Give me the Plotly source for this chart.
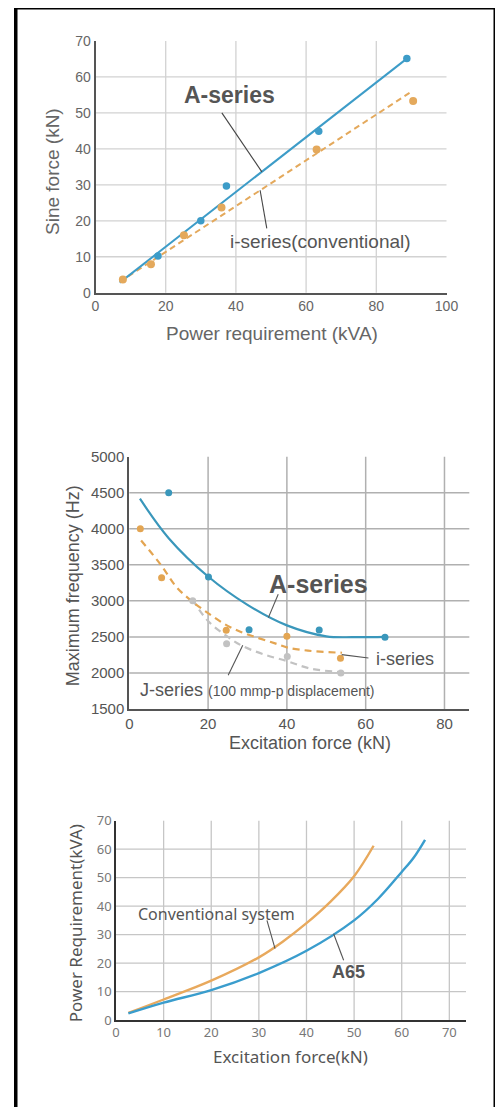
import plotly.graph_objects as go

# reference page is 503x1115; the page keeps the browser's 8px body margin,
# so the figure is sized to fill the viewport minus that margin
PAGE_W, PAGE_H = 503, 1115
OFF = 8
W, H = PAGE_W - 2 * OFF, PAGE_H - 2 * OFF

# ---------------- Chart 1: Sine force vs power requirement ----------------
c1_a_x = [17.8, 30.0, 37.3, 63.6, 88.7]
c1_a_y = [10.2, 20.0, 29.7, 44.9, 65.1]
c1_i_x = [7.8, 15.8, 25.2, 35.9, 63.0, 90.5]
c1_i_y = [3.7, 7.9, 16.0, 23.7, 39.8, 53.3]
c1_a_fit_x = [6.9, 88.7]
c1_a_fit_y = [2.8, 65.1]
c1_i_fit_x = [6.9, 90.3]
c1_i_fit_y = [3.0, 56.1]
c1_xticks = [0, 20, 40, 60, 80, 100]
c1_yticks = [0, 10, 20, 30, 40, 50, 60, 70]
c1_xgrid = [20, 40, 60, 80]
c1_ygrid = [10, 20, 30, 40, 50, 60]

# ---------------- Chart 2: Maximum frequency vs excitation force ----------------
c2_a_x = [10.0, 20.1, 30.4, 48.2, 64.9]
c2_a_y = [4500, 3330, 2600, 2595, 2496]
c2_a_curve_x = [2.7, 10, 20, 30, 40, 50, 57, 65]
c2_a_curve_y = [4417, 3870, 3338, 2945, 2660, 2508, 2496, 2500]
c2_i_x = [2.8, 8.2, 24.6, 40.0, 53.6]
c2_i_y = [4000, 3320, 2593, 2510, 2204]
c2_i_curve_x = [3.0, 8, 12, 16, 20, 24.3, 28.5, 33, 37, 40, 44, 48.4, 54]
c2_i_curve_y = [3838, 3500, 3190, 2990, 2830, 2675, 2565, 2480, 2410, 2355, 2318, 2295, 2280]
c2_j_x = [16.1, 24.7, 40.1, 53.7]
c2_j_y = [3000, 2405, 2228, 2000]
c2_j_curve_x = [16, 20, 24.5, 28.5, 34, 40, 46, 54]
c2_j_curve_y = [3020, 2720, 2520, 2380, 2260, 2165, 2060, 2010]
c2_xticks = [0, 20, 40, 60, 80]
c2_yticks = [1500, 2000, 2500, 3000, 3500, 4000, 4500, 5000]
c2_xgrid = [20, 40, 60, 80]
c2_ygrid = [2000, 2500, 3000, 3500, 4000, 4500]

# ---------------- Chart 3: Power requirement vs excitation force ----------------
c3_conv_x = [2.6, 10, 20, 30, 35, 40, 45, 50, 54.1]
c3_conv_y = [2.5, 7.2, 13.8, 22.0, 27.5, 34.0, 41.5, 50.5, 61.2]
c3_a65_x = [2.6, 10, 20, 30, 40, 50, 55, 60, 62.5, 64.9]
c3_a65_y = [2.3, 6.1, 10.5, 16.5, 24.3, 35.0, 42.5, 52.0, 57.0, 63.3]
c3_xticks = [0, 10, 20, 30, 40, 50, 60, 70]
c3_yticks = [0, 10, 20, 30, 40, 50, 60, 70]
c3_xgrid = [10, 20, 30, 40, 50, 60, 70]
c3_ygrid = [10, 20, 30, 40, 50, 60]

# label leader lines (x0, y0, x1, y1) in data units
c1_leaders = [(36.0, 50.0, 47.4, 33.6), (48.8, 17.9, 46.9, 28.5)]
c2_leaders = [(37.8, 3093, 35.3, 2768), (53.9, 2255, 60.7, 2208), (25.1, 1968, 28.8, 2384)]
c3_leaders = [(31.7, 35.0, 33.4, 25.1), (45.7, 30.3, 47.8, 21.0)]

ARIAL = "Liberation Sans, Arial, sans-serif"
NOTO = "Noto Sans, sans-serif"

BLUE1 = "#3d9cc8"
ORANGE1 = "#e4a95c"
BLUE2 = "#3a97bb"
ORANGE2 = "#e3a552"
GRAY2 = "#c2c2c2"
BLUE3 = "#3a9dcd"
ORANGE3 = "#e8a95d"


def px_x(p):
    """page pixel x -> paper fraction"""
    return (p - OFF) / W


def px_y(p):
    """page pixel y (from top) -> paper fraction"""
    return 1 - (p - OFF) / H


fig = go.Figure()

# Chart 1 traces
fig.add_trace(go.Scatter(x=c1_i_fit_x, y=c1_i_fit_y, mode="lines",
                         line=dict(color=ORANGE1, width=2, dash="6px,4px"), xaxis="x", yaxis="y"))
fig.add_trace(go.Scatter(x=c1_a_fit_x, y=c1_a_fit_y, mode="lines",
                         line=dict(color=BLUE1, width=2), xaxis="x", yaxis="y"))
fig.add_trace(go.Scatter(x=c1_i_x, y=c1_i_y, mode="markers",
                         marker=dict(color=ORANGE1, size=8), xaxis="x", yaxis="y"))
fig.add_trace(go.Scatter(x=c1_a_x, y=c1_a_y, mode="markers",
                         marker=dict(color=BLUE1, size=7.5), xaxis="x", yaxis="y"))

# Chart 2 traces
fig.add_trace(go.Scatter(x=c2_j_curve_x, y=c2_j_curve_y, mode="lines", line_shape="spline",
                         line=dict(color=GRAY2, width=2.2, dash="7px,5px"), xaxis="x2", yaxis="y2"))
fig.add_trace(go.Scatter(x=c2_i_curve_x, y=c2_i_curve_y, mode="lines", line_shape="spline",
                         line=dict(color=ORANGE2, width=2.2, dash="7px,5px"), xaxis="x2", yaxis="y2"))
fig.add_trace(go.Scatter(x=c2_a_curve_x, y=c2_a_curve_y, mode="lines", line_shape="spline",
                         line=dict(color=BLUE2, width=2.2), xaxis="x2", yaxis="y2"))
fig.add_trace(go.Scatter(x=c2_j_x, y=c2_j_y, mode="markers",
                         marker=dict(color=GRAY2, size=7), xaxis="x2", yaxis="y2"))
fig.add_trace(go.Scatter(x=c2_i_x, y=c2_i_y, mode="markers",
                         marker=dict(color=ORANGE2, size=7), xaxis="x2", yaxis="y2"))
fig.add_trace(go.Scatter(x=c2_a_x, y=c2_a_y, mode="markers",
                         marker=dict(color=BLUE2, size=7), xaxis="x2", yaxis="y2"))

# Chart 3 traces
fig.add_trace(go.Scatter(x=c3_conv_x, y=c3_conv_y, mode="lines", line_shape="spline",
                         line=dict(color=ORANGE3, width=2.4), xaxis="x3", yaxis="y3"))
fig.add_trace(go.Scatter(x=c3_a65_x, y=c3_a65_y, mode="lines", line_shape="spline",
                         line=dict(color=BLUE3, width=2.4), xaxis="x3", yaxis="y3"))

shapes = []


def add_grid(xref, yref, xs, ys, color, width):
    for v in xs:
        shapes.append(dict(type="line", xref=xref, yref=yref + " domain", x0=v, x1=v, y0=0, y1=1,
                           line=dict(color=color, width=width), layer="below"))
    for v in ys:
        shapes.append(dict(type="line", xref=xref + " domain", yref=yref, x0=0, x1=1, y0=v, y1=v,
                           line=dict(color=color, width=width), layer="below"))


add_grid("x", "y", c1_xgrid, c1_ygrid, "#d2d2d2", 1.3)
add_grid("x2", "y2", c2_xgrid, c2_ygrid, "#b0b0b0", 1.5)
add_grid("x3", "y3", c3_xgrid, c3_ygrid, "#c6c6c6", 1.3)


def add_leaders(xref, yref, leaders, color):
    for (a, b, c, d) in leaders:
        shapes.append(dict(type="line", xref=xref, yref=yref, x0=a, y0=b, x1=c, y1=d,
                           line=dict(color=color, width=1.1)))


add_leaders("x", "y", c1_leaders, "#444444")
add_leaders("x2", "y2", c2_leaders, "#555555")
add_leaders("x3", "y3", c3_leaders, "#555555")

# black frame (left bar, and the parts of the top/right bars that fall inside the figure)
shapes.append(dict(type="rect", xref="paper", yref="paper", x0=px_x(14), x1=px_x(17.5),
                   y0=0, y1=1, fillcolor="black", line=dict(width=0)))
shapes.append(dict(type="rect", xref="paper", yref="paper", x0=px_x(14), x1=1,
                   y0=px_y(9.5), y1=1, fillcolor="black", line=dict(width=0)))
shapes.append(dict(type="rect", xref="paper", yref="paper", x0=px_x(493.5), x1=1,
                   y0=0, y1=1, fillcolor="black", line=dict(width=0)))


def ann(text, x, y, xref, yref, size, family=ARIAL, color="#555555", angle=0, xanchor="center"):
    return dict(text=text, x=x, y=y, xref=xref, yref=yref, showarrow=False, textangle=angle,
                xanchor=xanchor, yanchor="middle", font=dict(family=family, size=size, color=color))


annotations = [
    ann("<b>A-series</b>", 38.3, 54.9, "x", "y", 23),
    ann("i-series(conventional)", 64.0, 14.2, "x", "y", 19),
    ann("Sine force (kN)", px_x(53), px_y(172), "paper", "paper", 19, color="#666666", angle=-90),
    ann("Power requirement (kVA)", px_x(271.5), px_y(333), "paper", "paper", 19, color="#666666"),
    ann("<b>A-series</b>", 48.0, 3232, "x2", "y2", 25),
    ann("i-series", 62.2, 2200, "x2", "y2", 18, xanchor="left"),
    ann("J-series <span style='font-size:14px'>(100 mmp-p displacement)</span>",
        2.2, 1760, "x2", "y2", 18, xanchor="left"),
    ann("Maximum frequency (Hz)", px_x(73.3), px_y(586), "paper", "paper", 18, angle=-90),
    ann("Excitation force (kN)", px_x(309.7), px_y(743.3), "paper", "paper", 18),
    ann("Conventional system", 21.1, 37.1, "x3", "y3", 16, family=NOTO),
    ann("<b>A65</b>", 48.8, 16.7, "x3", "y3", 18),
    ann("Power Requirement(kVA)", px_x(75), px_y(923.3), "paper", "paper", 17, family=NOTO, angle=-90),
    ann("Excitation force(kN)", px_x(290.8), px_y(1056.7), "paper", "paper", 17, family=NOTO),
]


def axis(domain, rng, ticks, anchor, font, linecolor, linewidth):
    return dict(domain=domain, range=rng, anchor=anchor, tickvals=ticks,
                ticktext=[str(t) for t in ticks], showgrid=False, zeroline=False,
                showline=True, linecolor=linecolor, linewidth=linewidth, ticks="",
                tickfont=font, fixedrange=True)


f1 = dict(family=ARIAL, size=14, color="#666666")
f2 = dict(family=ARIAL, size=15, color="#555555")
f3 = dict(family=NOTO, size=13, color="#777777")

fig.update_layout(
    autosize=True, margin=dict(l=0, r=0, t=0, b=0, pad=0, autoexpand=False), showlegend=False,
    paper_bgcolor="white", plot_bgcolor="white",
    xaxis=axis([px_x(95.5), px_x(446.5)], [0, 100], c1_xticks, "y", f1, "#555555", 1.6),
    yaxis=axis([px_y(292.7), px_y(41)], [0, 70], c1_yticks, "x", f1, "#555555", 1.6),
    xaxis2=axis([px_x(129.3), px_x(469.3)], [0, 86.3], c2_xticks, "y2", f2, "#555555", 2),
    yaxis2=axis([px_y(709), px_y(456.7)], [1500, 5000], c2_yticks, "x2", f2, "#555555", 2),
    xaxis3=axis([px_x(116), px_x(466)], [0, 73.5], c3_xticks, "y3", f3, "#333333", 1.6),
    yaxis3=axis([px_y(1020), px_y(820.7)], [0, 70], c3_yticks, "x3", f3, "#333333", 1.6),
    shapes=shapes, annotations=annotations,
)

fig.write_html("out.html", config={"displayModeBar": False, "responsive": True},
               default_width="100%", default_height="calc(100vh - 16px)")
